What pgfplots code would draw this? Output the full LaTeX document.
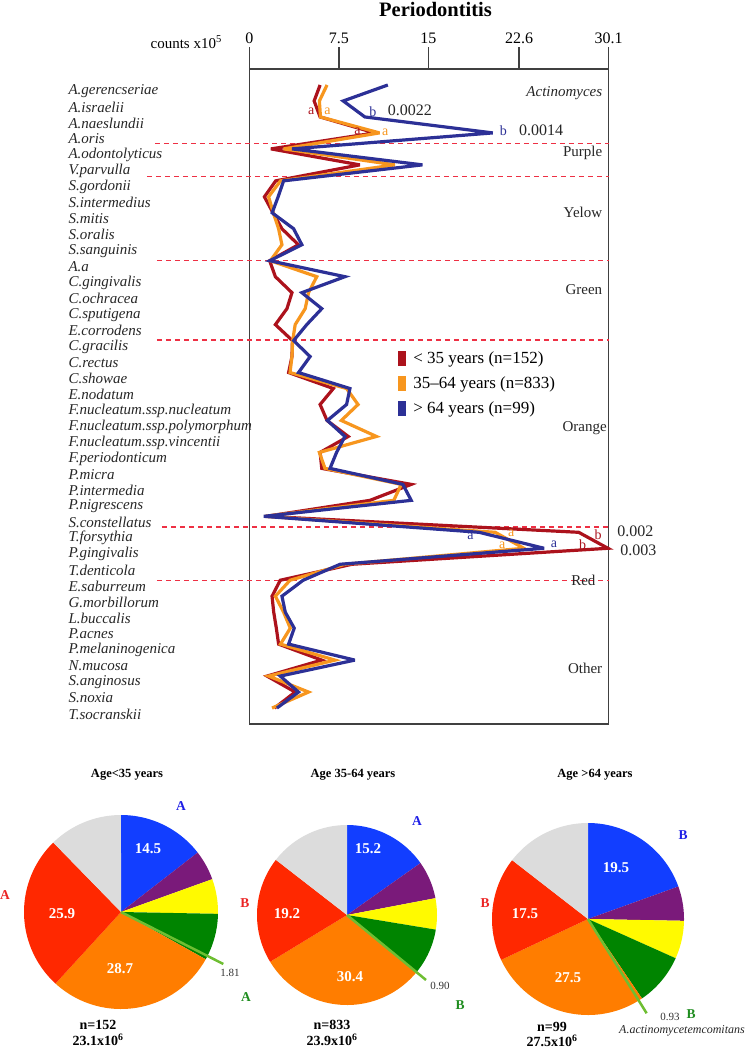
\documentclass[border=0pt]{standalone}
\usepackage{fontspec}
\setmainfont{Liberation Serif}
\usepackage{pgfplots}
\pgfplotsset{compat=1.18}
\usepackage{pgfplotstable}

\definecolor{cred}{RGB}{172,18,28}
\definecolor{corange}{RGB}{247,150,30}
\definecolor{cblue}{RGB}{44,48,150}
\definecolor{cdash}{RGB}{238,48,68}
\definecolor{pblue}{RGB}{18,62,255}
\definecolor{ppurple}{RGB}{122,26,122}
\definecolor{pyellow}{RGB}{255,250,0}
\definecolor{pgreen}{RGB}{0,132,0}
\definecolor{porange}{RGB}{255,125,0}
\definecolor{pred}{RGB}{255,40,0}
\definecolor{pgrey}{RGB}{220,220,220}
\definecolor{plgreen}{RGB}{110,190,50}
\definecolor{lblue}{RGB}{30,30,230}
\definecolor{lred}{RGB}{235,35,35}
\definecolor{lgreen}{RGB}{30,140,30}

\pgfplotstableread{
y red orange blue
1 5.92 6.50 11.60
2 5.42 5.86 7.86
3 5.92 5.95 9.67
4 10.50 10.90 20.40
5 1.80 2.86 3.56
6 9.25 12.20 14.50
7 2.20 2.60 2.86
8 1.25 1.60 2.40
9 1.97 2.00 1.90
10 2.72 2.44 3.70
11 4.10 2.72 4.39
12 1.69 1.75 1.69
13 2.17 5.64 8.00
14 3.56 4.95 4.39
15 3.14 4.67 6.06
16 2.17 3.83 4.80
17 3.60 3.62 3.70
18 3.56 3.56 5.08
19 3.28 3.40 4.11
20 7.03 8.14 8.42
21 5.92 9.10 8.14
22 6.50 7.70 6.53
23 8.28 10.64 8.00
24 5.92 5.86 7.30
25 6.06 6.33 6.75
26 13.56 12.72 12.86
27 10.10 12.10 13.56
28 1.40 1.30 1.20
29 27.60 20.60 19.25
30 30.05 23.00 24.70
31 8.60 8.00 7.60
32 2.58 3.40 4.50
33 1.89 2.17 2.72
34 2.03 2.86 3.00
35 2.25 3.42 3.75
36 2.44 2.60 3.28
37 6.06 7.17 8.83
38 1.47 1.60 2.58
39 3.83 4.95 4.11
40 2.10 1.89 2.30
}\periodata

% pie wedge: start %, end %, colour (clockwise from 12 o'clock)
\newcommand{\piewedge}[3]{%
  \addplot[fill=#3, draw=none, domain=#1:#2, samples=60, variable=\t]
    ({cos(90-3.6*\t)}, {sin(90-3.6*\t)}) -- (axis cs:0,0) -- cycle;}

\pgfplotsset{pieaxis/.style={anchor=center, scale only axis, hide axis,
  xmin=-1, xmax=1, ymin=-1, ymax=1, clip=false}}

\begin{document}
\begin{tikzpicture}
\useasboundingbox (0pt,0pt) rectangle (746pt,-1050pt);

\begin{axis}[
  at={(249.5pt,-69pt)}, anchor=north west,
  scale only axis, width=359pt, height=655pt,
  xmin=0, xmax=30.1, ymin=0, ymax=41, y dir=reverse,
  clip=false,
  axis line style={line width=1.1pt, black!75},
  xtick={0,7.5,15,22.6,30.1},
  xticklabels={0,7.5,15,22.6,30.1},
  xtick pos=right, xticklabel pos=right,
  tick align=outside, major tick length=22pt,
  x tick style={line width=1.1pt, black!75},
  xticklabel style={font=\fontsize{16}{18}\selectfont},
  ytick={1,...,40},
  y tick style={draw=none},
  yticklabels={A.gerencseriae, A.israelii, A.naeslundii, A.oris, A.odontolyticus, V.parvulla, S.gordonii, S.intermedius, S.mitis, S.oralis, S.sanguinis, A.a, C.gingivalis, C.ochracea, C.sputigena, E.corrodens, C.gracilis, C.rectus, C.showae, E.nodatum, F.nucleatum.ssp.nucleatum, F.nucleatum.ssp.polymorphum, F.nucleatum.ssp.vincentii, F.periodonticum, P.micra, P.intermedia, P.nigrescens, S.constellatus, T.forsythia, P.gingivalis, T.denticola, E.saburreum, G.morbillorum, L.buccalis, P.acnes, P.melaninogenica, N.mucosa, S.anginosus, S.noxia, T.socranskii},
  yticklabel style={anchor=west, xshift=-162.5pt, yshift=-6pt, font=\itshape\fontsize{15}{16}\selectfont, text=black!85},
  /pgf/number format/assume math mode=true,
  legend style={draw=none, fill=none, at={(rel axis cs:0.414,0.572)}, anchor=north west,
    font=\fontsize{17}{19}\selectfont, row sep=8pt, column sep=5pt, inner sep=0pt},
  legend cell align=left,
  legend image code/.code={\fill[draw=none] (0pt,-7.5pt) rectangle (8pt,7.5pt);},
]
% dashed separators
\draw[cdash, line width=1.4pt, dash pattern=on 5pt off 4pt] (axis cs:-7.94,4.65) -- (axis cs:30.1,4.65);
\draw[cdash, line width=1.4pt, dash pattern=on 5pt off 4pt] (axis cs:-8.6,6.74) -- (axis cs:30.1,6.74);
\draw[cdash, line width=1.4pt, dash pattern=on 5pt off 4pt] (axis cs:-7.77,12.0) -- (axis cs:30.1,12.0);
\draw[cdash, line width=1.4pt, dash pattern=on 5pt off 4pt] (axis cs:-7.77,16.96) -- (axis cs:30.1,16.96);
\draw[cdash, line width=1.4pt, dash pattern=on 5pt off 4pt] (axis cs:-7.35,28.68) -- (axis cs:30.1,28.68);
\draw[cdash, line width=1.4pt, dash pattern=on 5pt off 4pt] (axis cs:-7.77,32.02) -- (axis cs:30.1,32.02);

\addplot[cred, line width=3.2pt, line join=miter, miter limit=4] table[x=red, y=y] {\periodata};
\addlegendentry{< 35 years (n=152)}
\addplot[corange, line width=3.2pt, line join=miter, miter limit=4] table[x=orange, y=y] {\periodata};
\addlegendentry{35–64 years (n=833)}
\addplot[cblue, line width=3.2pt, line join=miter, miter limit=4] table[x=blue, y=y] {\periodata};
\addlegendentry{> 64 years (n=99)}

% group names
\begin{scope}[font=\fontsize{15}{17}\selectfont, text=black!85]
\node[anchor=east, font=\itshape\fontsize{15}{17}\selectfont] at (axis cs:29.87,1.48) {Actinomyces};
\node[anchor=east] at (axis cs:29.87,5.24) {Purple};
\node[anchor=east] at (axis cs:29.87,8.99) {Yelow};
\node[anchor=east] at (axis cs:29.87,13.79) {Green};
\node[anchor=east] at (axis cs:30.25,22.48) {Orange};
\node[anchor=east] at (axis cs:29.3,32.02) {Red};
\node[anchor=east] at (axis cs:29.87,37.5) {Other};
\end{scope}

% significance letters
\begin{scope}[font=\fontsize{14}{16}\selectfont, inner sep=0pt]
\node[text=cred] at (axis cs:5.17,2.67) {a};
\node[text=corange] at (axis cs:6.54,2.63) {a};
\node[text=cblue] at (axis cs:10.35,2.67) {b};
\node[text=cred] at (axis cs:9.06,3.92) {a};
\node[text=corange] at (axis cs:11.39,3.99) {a};
\node[text=cblue] at (axis cs:21.28,3.88) {b};
\node[text=corange] at (axis cs:21.95,29.06) {a};
\node[text=cred] at (axis cs:29.23,29.12) {b};
\node[text=cblue] at (axis cs:18.53,29.22) {a};
\node[text=corange] at (axis cs:21.19,29.83) {a};
\node[text=cblue] at (axis cs:25.53,29.72) {a};
\node[text=cred] at (axis cs:27.92,29.79) {b};
\end{scope}
\begin{scope}[font=\fontsize{16}{18}\selectfont, inner sep=0pt, text=black!85]
\node at (axis cs:13.45,2.61) {0.0022};
\node at (axis cs:24.45,3.86) {0.0014};
\node at (axis cs:32.35,28.95) {0.002};
\node at (axis cs:32.6,30.1) {0.003};
\end{scope}
\end{axis}

\node[font=\bfseries\fontsize{20.5}{22}\selectfont] at (435.5pt,-9pt) {Periodontitis};
\node[anchor=base east, font=\fontsize{15}{17}\selectfont, inner sep=0pt] at (222pt,-48pt) {counts x10\textsuperscript{5}};

% ---------------- pies ----------------
\begin{axis}[pieaxis, at={(121pt,-912pt)}, width=194pt, height=194pt]
\piewedge{0}{14.5}{pblue}
\piewedge{14.5}{19.5}{ppurple}
\piewedge{19.5}{25.3}{pyellow}
\piewedge{25.3}{33.1}{pgreen}
\piewedge{33.1}{61.8}{porange}
\piewedge{61.8}{87.7}{pred}
\piewedge{87.7}{100}{pgrey}
\addplot[plgreen, line width=2.5pt] coordinates {(0,0) (1.055,-0.536)};
\end{axis}

\begin{axis}[pieaxis, at={(347pt,-915pt)}, width=180pt, height=180pt]
\piewedge{0}{15.2}{pblue}
\piewedge{15.2}{22.0}{ppurple}
\piewedge{22.0}{27.6}{pyellow}
\piewedge{27.6}{35.9}{pgreen}
\piewedge{35.9}{66.3}{porange}
\piewedge{66.3}{85.5}{pred}
\piewedge{85.5}{100}{pgrey}
\addplot[plgreen, line width=2.5pt] coordinates {(0,0) (0.878,-0.722)};
\end{axis}

\begin{axis}[pieaxis, at={(588pt,-919pt)}, width=192pt, height=192pt]
\piewedge{0}{19.5}{pblue}
\piewedge{19.5}{25.3}{ppurple}
\piewedge{25.3}{31.7}{pyellow}
\piewedge{31.7}{40.5}{pgreen}
\piewedge{40.5}{68.0}{porange}
\piewedge{68.0}{85.5}{pred}
\piewedge{85.5}{100}{pgrey}
\addplot[plgreen, line width=2.5pt] coordinates {(0,0) (0.611,-0.982)};
\end{axis}

% pie titles
\begin{scope}[font=\bfseries\fontsize{12.5}{14}\selectfont]
\node at (127pt,-775pt) {Age<35 years};
\node at (353pt,-775pt) {Age 35-64 years};
\node at (595pt,-775pt) {Age >64 years};
\end{scope}
% values in wedges
\begin{scope}[font=\bfseries\fontsize{15}{17}\selectfont, text=white]
\node at (148pt,-849pt) {14.5};
\node at (62pt,-914pt) {25.9};
\node at (120pt,-969pt) {28.7};
\node at (368pt,-849pt) {15.2};
\node at (287pt,-914pt) {19.2};
\node at (350pt,-977pt) {30.4};
\node at (616pt,-868pt) {19.5};
\node at (525pt,-914pt) {17.5};
\node at (568pt,-978pt) {27.5};
\end{scope}
% letters
\begin{scope}[font=\bfseries\fontsize{13.5}{15}\selectfont]
\node[text=lblue] at (181pt,-806pt) {A};
\node[text=lred] at (5pt,-895pt) {A};
\node[text=lgreen] at (246pt,-997pt) {A};
\node[text=lblue] at (417pt,-821pt) {A};
\node[text=lred] at (245pt,-903pt) {B};
\node[text=lgreen] at (460pt,-1005pt) {B};
\node[text=lblue] at (683pt,-835pt) {B};
\node[text=lred] at (485pt,-903pt) {B};
\node[text=lgreen] at (691pt,-1014pt) {B};
\end{scope}
\begin{scope}[font=\fontsize{11}{13}\selectfont, text=black!80]
\node at (230pt,-973pt) {1.81};
\node at (440pt,-986pt) {0.90};
\node at (670pt,-1017pt) {0.93};
\end{scope}
\node[font=\itshape\fontsize{12}{14}\selectfont, text=black!85] at (682pt,-1031pt) {A.actinomycetemcomitans};
% n and totals
\begin{scope}[font=\bfseries\fontsize{14}{16}\selectfont]
\node at (98pt,-1025pt) {n=152};
\node at (98pt,-1039.5pt) {23.1x10\textsuperscript{6}};
\node at (332pt,-1025pt) {n=833};
\node at (332pt,-1039.5pt) {23.9x10\textsuperscript{6}};
\node at (552pt,-1027pt) {n=99};
\node at (552pt,-1040.5pt) {27.5x10\textsuperscript{6}};
\end{scope}
\end{tikzpicture}
\end{document}
